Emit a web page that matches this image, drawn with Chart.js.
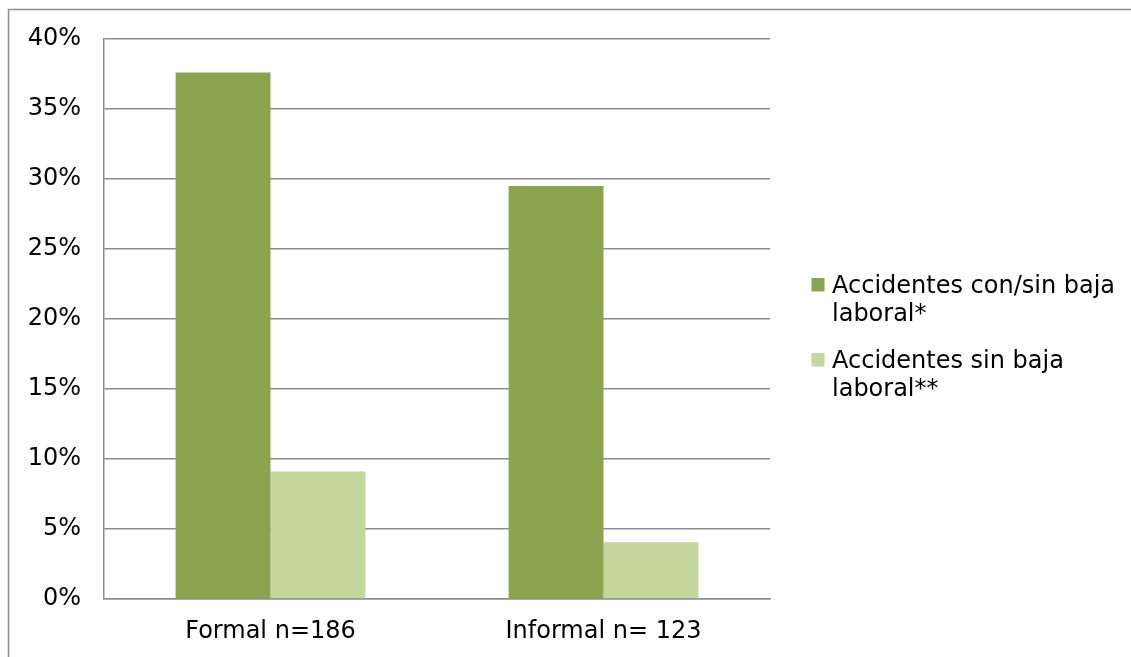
<!DOCTYPE html>
<html>
<head>
<meta charset="utf-8">
<script src="https://cdn.jsdelivr.net/npm/chart.js@4"></script>
<style>
html,body{margin:0;padding:0;background:#fff;}
#wrap{position:relative;width:1131px;height:657px;}
</style>
</head>
<body>
<div id="wrap"><canvas id="c" width="1131" height="657"></canvas></div>
<script>
const categories = ["Formal n=186", "Informal n= 123"];
const seriesNames = [["Accidentes con/sin baja", "laboral*"], ["Accidentes sin baja", "laboral**"]];
const conSinBaja = [37.6, 29.5];
const sinBaja = [9.1, 4.05];
const yTicks = [0, 5, 10, 15, 20, 25, 30, 35, 40];

const FONT = "'DejaVu Sans', Verdana, sans-serif";
const FSIZE = 24;
const colors = ["#8AA54E", "#C4D69C"];

const framePlugin = {
  id: 'frame',
  beforeDraw(chart) {
    const ctx = chart.ctx;
    ctx.save();
    ctx.fillStyle = '#fff';
    ctx.fillRect(0, 0, chart.width, chart.height);
    ctx.strokeStyle = '#8c8c8c';
    ctx.lineWidth = 1.5;
    ctx.beginPath();
    ctx.moveTo(8.5, chart.height);
    ctx.lineTo(8.5, 9.5);
    ctx.lineTo(chart.width, 9.5);
    ctx.stroke();
    ctx.restore();
  }
};

const legendPlugin = {
  id: 'customLegend',
  afterDraw(chart) {
    const ctx = chart.ctx;
    ctx.save();
    ctx.font = FSIZE + "px " + FONT;
    ctx.textBaseline = 'alphabetic';
    ctx.textAlign = 'left';
    const baselines = [293, 368];
    chart.data.datasets.forEach((ds, i) => {
      const b = baselines[i];
      ctx.fillStyle = ds.backgroundColor;
      ctx.fillRect(811.5, b - 15, 13, 13.5);
      ctx.fillStyle = '#000';
      const lines = Array.isArray(ds.label) ? ds.label : [ds.label];
      lines.forEach((ln, j) => ctx.fillText(ln, 832, b + j * 28.4));
    });
    ctx.restore();
  }
};

new Chart(document.getElementById('c'), {
  type: 'bar',
  data: {
    labels: categories,
    datasets: [
      { label: seriesNames[0], data: conSinBaja, backgroundColor: colors[0] },
      { label: seriesNames[1], data: sinBaja, backgroundColor: colors[1] }
    ]
  },
  options: {
    responsive: false,
    animation: false,
    devicePixelRatio: 1,
    layout: { padding: { top: 39, right: 361, bottom: 0, left: 0 } },
    datasets: { bar: { barPercentage: 1.0, categoryPercentage: 0.57 } },
    plugins: { legend: { display: false }, tooltip: { enabled: false } },
    scales: {
      x: {
        grid: { display: false, drawTicks: false },
        border: { display: true, color: '#8c8c8c', width: 1.5 },
        ticks: { color: '#000', font: { family: FONT, size: FSIZE }, padding: 18 },
        afterFit(s) { s.height = 58; }
      },
      y: {
        min: 0, max: 40,
        afterBuildTicks(s) { s.ticks = yTicks.map(v => ({ value: v })); },
        grid: { color: '#8c8c8c', lineWidth: 1.5, drawTicks: false },
        border: { display: true, color: '#8c8c8c', width: 1.5 },
        ticks: { color: '#000', font: { family: FONT, size: FSIZE }, padding: 23,
                 callback: v => v + '%' },
        afterFit(s) { s.width = 104; }
      }
    }
  },
  plugins: [framePlugin, legendPlugin]
});
</script>
</body>
</html>
